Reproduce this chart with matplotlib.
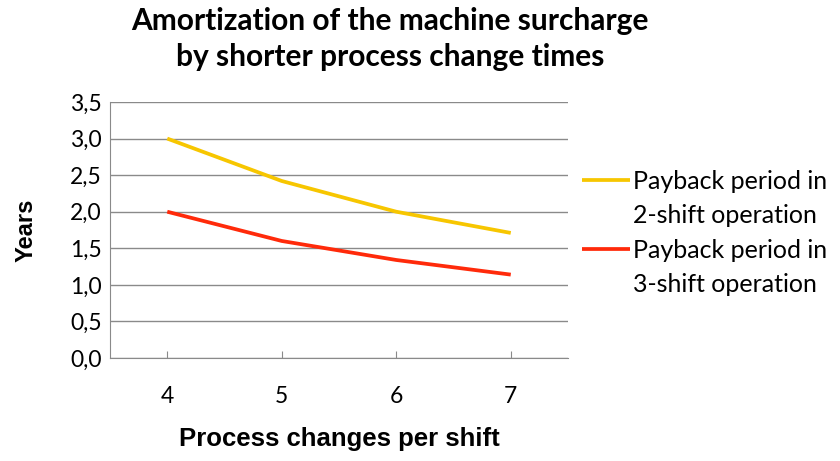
import matplotlib
matplotlib.use("Agg")
import matplotlib.pyplot as plt
from matplotlib.lines import Line2D

# data
changes = [4, 5, 6, 7]
payback_2shift = [3.0, 2.42, 2.0, 1.71]
payback_3shift = [2.0, 1.6, 1.34, 1.14]
y_ticks = [0.0, 0.5, 1.0, 1.5, 2.0, 2.5, 3.0, 3.5]
y_tick_labels = ["0,0", "0,5", "1,0", "1,5", "2,0", "2,5", "3,0", "3,5"]

YELLOW = "#F7C600"
RED = "#FF2A0A"

fig = plt.figure(figsize=(8.4, 4.61), dpi=100)
ax = fig.add_axes([110 / 840, 1 - 358 / 461, (568 - 110) / 840, (358 - 102) / 461])

l1, = ax.plot(changes, payback_2shift, color=YELLOW, linewidth=2.7, solid_capstyle="butt")
l2, = ax.plot(changes, payback_3shift, color=RED, linewidth=2.7, solid_capstyle="butt")

ax.set_xlim(3.5, 7.5)
ax.set_ylim(0, 3.5)
ax.set_xticks(changes)
ax.set_xticklabels([str(c) for c in changes], fontsize=16.5, family="Lato")
ax.set_yticks(y_ticks)
ax.set_yticklabels(y_tick_labels, fontsize=16.5, family="Lato")
ax.yaxis.grid(True, color="#8a8a8a", linewidth=1)
ax.set_axisbelow(True)
for s in ["top", "right"]:
    ax.spines[s].set_visible(False)
for s in ["left", "bottom"]:
    ax.spines[s].set_color("#8a8a8a")
ax.tick_params(axis="y", length=0, pad=6)
ax.tick_params(axis="x", direction="in", length=5, color="#8a8a8a", pad=20)

ax.set_ylabel("Years", fontsize=17, fontweight="bold", family="Liberation Sans")
ax.yaxis.set_label_coords(-0.158, 0.5)
ax.set_xlabel("Process changes per shift", fontsize=18.5, fontweight="bold",
              family="Liberation Sans")
ax.xaxis.set_label_coords(0.5, -0.27)

fig.text(390 / 840, 1 - 39 / 461, "Amortization of the machine surcharge\nby shorter process change times",
         ha="center", va="center", fontsize=21.5, fontweight="bold", family="Lato",
         linespacing=1.38)

# legend: swatch sits beside the first line of each two-line label
blank = Line2D([], [], linestyle="none")
fig.legend(handles=[l1, blank, l2, blank],
           labels=["Payback period in", "2-shift operation", "Payback period in", "3-shift operation"],
           loc="upper left", bbox_to_anchor=(572 / 840, 1 - 160 / 461),
           frameon=False, prop={"family": "Lato", "size": 18},
           handlelength=1.9, handletextpad=0.15, labelspacing=0.45, borderaxespad=0)

fig.savefig("out.png", dpi=100)
